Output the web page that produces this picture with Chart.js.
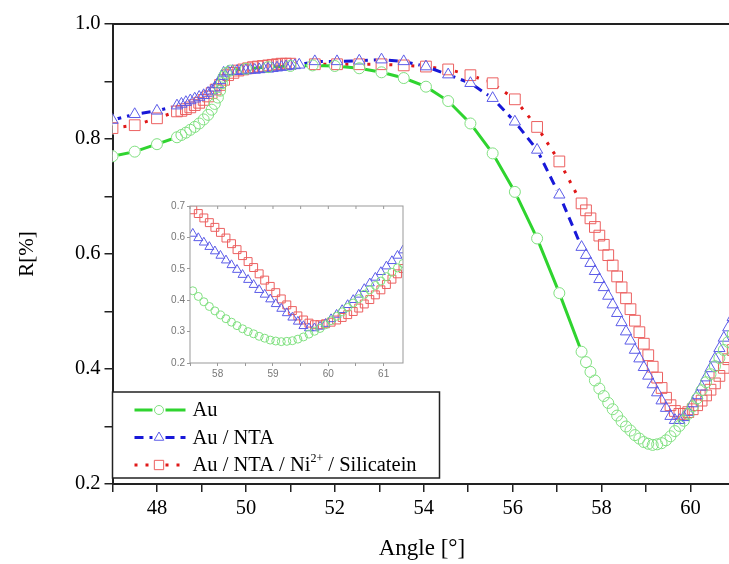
<!DOCTYPE html>
<html>
<head>
<meta charset="utf-8">
<script src="https://cdn.jsdelivr.net/npm/chart.js"></script>
<style>
  html, body { margin: 0; padding: 0; background: #fff; }
  #wrap { position: relative; width: 729px; height: 564px; overflow: hidden; }
  #main { position: absolute; left: 0; top: 0; }
  #inset { position: absolute; left: 150px; top: 190px; }
</style>
</head>
<body>
<div id="wrap">
  <!-- a bit wider than the window: the plot runs off the right edge like the source figure -->
  <canvas id="main" width="740" height="564"></canvas>
  <canvas id="inset" width="260" height="195"></canvas>
</div>
<script>
// reflectivity curves
const auAngle = [47.0, 47.5, 48.0, 48.45, 48.55, 48.65, 48.75, 48.85, 48.95, 49.05, 49.15, 49.23, 49.3, 49.37, 49.42,
  49.46, 49.5, 49.55, 49.65, 50.0, 50.5, 51.0, 51.5, 52.0, 52.55, 53.05, 53.55, 54.05, 54.55, 55.05, 55.55, 56.05,
  56.55, 57.05, 57.55, 57.65, 57.75, 57.85, 57.95, 58.05, 58.15, 58.25, 58.35, 58.45, 58.55, 58.65, 58.75, 58.85,
  58.95, 59.05, 59.15, 59.25, 59.35, 59.45, 59.55, 59.65, 59.75, 59.85, 59.95, 60.05, 60.15, 60.25, 60.35, 60.45,
  60.55, 60.65, 60.75, 60.85, 60.95, 61.05, 61.15, 61.25, 61.35];
const auR = [0.770, 0.778, 0.791, 0.803, 0.807, 0.811, 0.816, 0.821, 0.827, 0.834, 0.842, 0.851, 0.861, 0.872, 0.884,
  0.897, 0.908, 0.915, 0.919, 0.922, 0.925, 0.927, 0.928, 0.927, 0.923, 0.916, 0.906, 0.891, 0.866, 0.827, 0.775, 0.708,
  0.627, 0.532, 0.430, 0.412, 0.395, 0.380, 0.366, 0.353, 0.341, 0.330, 0.319, 0.309, 0.300, 0.293, 0.285, 0.279,
  0.273, 0.270, 0.268, 0.269, 0.271, 0.276, 0.283, 0.292, 0.301, 0.310, 0.322, 0.335, 0.349, 0.363, 0.377, 0.391,
  0.405, 0.419, 0.433, 0.447, 0.461, 0.475, 0.489, 0.503, 0.517];

const ntaAngle = [47.0, 47.5, 48.0, 48.45, 48.55, 48.65, 48.75, 48.85, 48.95, 49.05, 49.15, 49.23, 49.3, 49.37, 49.42,
  49.46, 49.5, 49.6, 49.7, 49.8, 49.9, 50.0, 50.1, 50.2, 50.3, 50.4, 50.5, 50.6, 50.7, 50.8, 50.9, 51.0, 51.1, 51.2,
  51.55, 52.05, 52.55, 53.05, 53.55, 54.05, 54.55, 55.05, 55.55, 56.05, 56.55, 57.05, 57.55, 57.65, 57.75, 57.85,
  57.95, 58.05, 58.15, 58.25, 58.35, 58.45, 58.55, 58.65, 58.75, 58.85, 58.95, 59.05, 59.15, 59.25, 59.35, 59.45,
  59.55, 59.65, 59.75, 59.85, 59.95, 60.05, 60.15, 60.25, 60.35, 60.45, 60.55, 60.65, 60.75, 60.85, 60.95, 61.05,
  61.15, 61.25, 61.35];
const ntaR = [0.833, 0.843, 0.849, 0.858, 0.861, 0.864, 0.867, 0.870, 0.873, 0.876, 0.880, 0.884, 0.889, 0.895, 0.902,
  0.909, 0.915, 0.917, 0.918, 0.918, 0.919, 0.919, 0.920, 0.920, 0.921, 0.922, 0.922, 0.923, 0.924, 0.925, 0.926, 0.927,
  0.928, 0.929, 0.935, 0.935, 0.936, 0.938, 0.935, 0.926, 0.912, 0.897, 0.871, 0.830, 0.781, 0.703, 0.612, 0.598, 0.584,
  0.570, 0.556, 0.542, 0.527, 0.512, 0.497, 0.481, 0.465, 0.449, 0.433, 0.418, 0.403, 0.388, 0.373, 0.359, 0.345, 0.332,
  0.318, 0.311, 0.311, 0.316, 0.325, 0.340, 0.354, 0.369, 0.385, 0.401, 0.418, 0.436, 0.454, 0.472, 0.490, 0.508,
  0.525, 0.542, 0.559];

const silAngle = [47.0, 47.5, 48.0, 48.45, 48.55, 48.65, 48.75, 48.85, 48.95, 49.05, 49.15, 49.23, 49.32, 49.42, 49.51,
  49.6, 49.72, 49.83, 49.94, 50.05, 50.16, 50.27, 50.38, 50.5, 50.6, 50.7, 50.8, 50.9, 51.0, 51.55, 52.05, 52.55, 53.05,
  53.55, 54.05, 54.55, 55.05, 55.55, 56.05, 56.55, 57.05, 57.55, 57.65, 57.75, 57.85, 57.95, 58.05, 58.15, 58.25, 58.35,
  58.45, 58.55, 58.65, 58.75, 58.85, 58.95, 59.05, 59.15, 59.25, 59.35, 59.45, 59.55, 59.65, 59.75, 59.85, 59.95, 60.05,
  60.15, 60.25, 60.35, 60.45, 60.55, 60.65, 60.75, 60.85, 60.95, 61.05, 61.15, 61.25, 61.35];
const silR = [0.819, 0.824, 0.836, 0.848, 0.849, 0.852, 0.855, 0.859, 0.863, 0.868, 0.874, 0.880, 0.886, 0.894, 0.903,
  0.911, 0.915, 0.919, 0.921, 0.923, 0.925, 0.926, 0.927, 0.928, 0.929, 0.930, 0.931, 0.931, 0.931, 0.930, 0.930, 0.930,
  0.930, 0.928, 0.926, 0.921, 0.911, 0.897, 0.869, 0.821, 0.761, 0.688, 0.676, 0.662, 0.647, 0.632, 0.616, 0.598, 0.580,
  0.561, 0.542, 0.523, 0.504, 0.484, 0.464, 0.444, 0.424, 0.404, 0.385, 0.367, 0.350, 0.337, 0.327, 0.322, 0.322, 0.325,
  0.330, 0.337, 0.345, 0.354, 0.364, 0.375, 0.388, 0.402, 0.417, 0.433, 0.450, 0.467, 0.484, 0.501];

const seriesLabels = ['Au', 'Au / NTA', 'Au / NTA / Ni^{2+} / Silicatein'];
const xTickLabels = [48, 50, 52, 54, 56, 58, 60];
const yTickLabels = ['0.2', '0.4', '0.6', '0.8', '1.0'];
const insetXTickLabels = [58, 59, 60, 61];

const serif = "'Liberation Serif', 'Times New Roman', serif";
const sans = "'Liberation Sans', Arial, sans-serif";
const CLEAR = 'rgba(0,0,0,0)';

function pairs(angles, values) {
  return angles.map((a, i) => ({ x: a, y: values[i] }));
}

// no visible line between markers that sit on top of each other
function hideShort(ctx) {
  const d = Math.hypot(ctx.p1.x - ctx.p0.x, ctx.p1.y - ctx.p0.y);
  return d < 14 ? CLEAR : undefined;
}

const styles = [
  { line: '#2fd42f', mark: '#80e080', shape: 'circle', r: 5.5, gap: 6, ri: 4, dash: [] },
  { line: '#1818d8', mark: '#5c5ce8', shape: 'triangle', r: 6.5, gap: 5.5, ri: 5.2, dash: [9, 6] },
  { line: '#e01818', mark: '#ec6060', shape: 'rect', r: 7.6, gap: 6.5, ri: 5.6, dash: [3, 8] }
];
const allData = [pairs(auAngle, auR), pairs(ntaAngle, ntaR), pairs(silAngle, silR)];

function drawLabel(ctx, text, x, y) {
  const parts = text.split(/\^\{(.*?)\}/);
  parts.forEach((p, i) => {
    if (i % 2 === 1) {
      ctx.font = '12px ' + serif;
      ctx.fillText(p, x, y - 7);
    } else {
      ctx.font = '20.5px ' + serif;
      ctx.fillText(p, x, y);
    }
    x += ctx.measureText(p).width;
  });
}

const frameTop = {
  id: 'frameTop',
  afterDraw(chart) {
    const { ctx, chartArea } = chart;
    ctx.save();
    ctx.strokeStyle = '#222';
    ctx.lineWidth = 2;
    ctx.beginPath();
    ctx.moveTo(chartArea.left, chartArea.top);
    ctx.lineTo(chartArea.right, chartArea.top);
    ctx.stroke();
    ctx.restore();
  }
};

// lines are drawn first; before the markers go on, cut a hole in the lines round each lone marker
const markerGaps = {
  id: 'markerGaps',
  beforeDraw(chart) { chart.$gapsDone = false; },
  beforeDatasetDraw(chart, args) {
    const ds = chart.data.datasets[args.index];
    if (ds.showLine !== false || chart.$gapsDone) return;
    chart.$gapsDone = true;
    const { ctx, chartArea } = chart;
    ctx.save();
    ctx.beginPath();
    ctx.rect(chartArea.left, chartArea.top, chartArea.right - chartArea.left, chartArea.bottom - chartArea.top);
    ctx.clip();
    ctx.fillStyle = '#fff';
    chart.data.datasets.forEach((d, di) => {
      if (d.showLine !== false) return;
      const pts = chart.getDatasetMeta(di).data;
      pts.forEach((p, j) => {
        const near = [pts[j - 1], pts[j + 1]].filter(Boolean)
          .map(q => Math.hypot(q.x - p.x, q.y - p.y));
        if (Math.max(...near) < 14) return;
        ctx.beginPath();
        ctx.arc(p.x, p.y, d.gapRadius, 0, Math.PI * 2);
        ctx.fill();
      });
    });
    ctx.restore();
  }
};

const legendBox = {
  id: 'legendBox',
  afterDraw(chart) {
    const ctx = chart.ctx;
    const left = chart.chartArea.left, top = 392, w = 327, h = 86;
    ctx.save();
    ctx.fillStyle = '#fff';
    ctx.fillRect(left, top, w, h);
    ctx.strokeStyle = '#222';
    ctx.lineWidth = 1.5;
    ctx.strokeRect(left, top, w, h);
    styles.forEach((st, i) => {
      const y = top + 18 + i * 27.5;
      ctx.strokeStyle = st.line;
      ctx.lineWidth = 3;
      ctx.setLineDash(st.dash);
      ctx.beginPath();
      ctx.moveTo(left + 22, y); ctx.lineTo(left + 40, y);
      ctx.moveTo(left + 53, y); ctx.lineTo(left + 73, y);
      ctx.stroke();
      ctx.setLineDash([]);
      ctx.strokeStyle = st.mark;
      ctx.fillStyle = CLEAR;
      ctx.lineWidth = 1;
      Chart.helpers.drawPoint(ctx, { pointStyle: st.shape, radius: st.r - 1, rotation: 0, borderWidth: 1 }, left + 46.5, y);
      ctx.fillStyle = '#000';
      ctx.textBaseline = 'middle';
      drawLabel(ctx, seriesLabels[i], left + 80, y + 1);
    });
    ctx.restore();
  }
};

const insetFrame = {
  id: 'insetFrame',
  afterDraw(chart) {
    const { ctx, chartArea } = chart;
    const sx = chart.scales.x;
    ctx.save();
    ctx.strokeStyle = '#999';
    ctx.lineWidth = 1;
    ctx.strokeRect(chartArea.left, chartArea.top, chartArea.right - chartArea.left, chartArea.bottom - chartArea.top);
    ctx.beginPath();
    sx.ticks.forEach(t => {
      const px = sx.getPixelForValue(t.value);
      ctx.moveTo(px, chartArea.top);
      ctx.lineTo(px, chartArea.top + 3);
    });
    ctx.stroke();
    ctx.restore();
  }
};

Chart.defaults.font.family = serif;
Chart.defaults.color = '#000';

const lineSets = allData.map((d, i) => ({
  label: seriesLabels[i] + ' line',
  data: d,
  order: 1,
  borderColor: styles[i].line,
  borderWidth: 3,
  borderDash: styles[i].dash,
  pointRadius: 0,
  pointHoverRadius: 0,
  tension: 0,
  segment: { borderColor: hideShort }
}));
const markerSets = allData.map((d, i) => ({
  label: seriesLabels[i],
  data: d,
  order: 0,
  showLine: false,
  gapRadius: styles[i].gap,
  pointStyle: styles[i].shape,
  pointRadius: styles[i].r,
  pointBorderColor: styles[i].mark,
  pointBackgroundColor: CLEAR,
  pointBorderWidth: 1
}));

new Chart(document.getElementById('main'), {
  type: 'line',
  data: { datasets: lineSets.concat(markerSets) },
  options: {
    responsive: false,
    animation: false,
    layout: { padding: { top: 24, right: 0, left: 0, bottom: 0 } },
    plugins: { legend: { display: false }, tooltip: { enabled: false } },
    scales: {
      x: {
        type: 'linear', min: 47, max: 60.92,
        afterFit: s => { s.height = 80; },
        border: { display: true, color: '#222', width: 2 },
        grid: { drawOnChartArea: false, tickLength: 8, color: '#222', lineWidth: 1.5 },
        ticks: {
          stepSize: 1, includeBounds: false, autoSkip: false, maxRotation: 0, padding: 4,
          font: { family: serif, size: 20.5 },
          callback: v => xTickLabels.includes(v) ? String(v) : ''
        },
        title: { display: true, text: 'Angle [°]', font: { family: serif, size: 23 }, padding: { top: 0, bottom: 1 } }
      },
      y: {
        min: 0.2, max: 1.0,
        afterFit: s => { s.width = 112.5; },
        border: { display: true, color: '#222', width: 2 },
        grid: { drawOnChartArea: false, tickLength: 8, color: '#222', lineWidth: 1.5 },
        ticks: {
          stepSize: 0.1, padding: 4,
          font: { family: serif, size: 20.5 },
          callback: v => yTickLabels.includes(v.toFixed(1)) ? v.toFixed(1) : ''
        },
        title: { display: true, text: 'R[%]', font: { family: serif, size: 21 }, padding: { top: 15, bottom: 0 } }
      }
    }
  },
  plugins: [markerGaps, frameTop, legendBox]
});

new Chart(document.getElementById('inset'), {
  type: 'line',
  data: {
    datasets: allData.map((d, i) => ({
      label: seriesLabels[i],
      data: d,
      showLine: false,
      pointStyle: styles[i].shape,
      pointRadius: styles[i].ri,
      pointBorderColor: styles[i].mark,
      pointBackgroundColor: CLEAR,
      pointBorderWidth: 1
    }))
  },
  options: {
    responsive: false,
    animation: false,
    layout: { padding: { top: 16, right: 7, left: 0, bottom: 0 } },
    plugins: { legend: { display: false }, tooltip: { enabled: false } },
    scales: {
      x: {
        type: 'linear', min: 57.5, max: 61.35,
        afterFit: s => { s.height = 22; },
        border: { display: false },
        grid: { drawOnChartArea: false, tickLength: 3, color: '#999' },
        ticks: {
          stepSize: 0.5, includeBounds: false, autoSkip: false, maxRotation: 0, padding: 2,
          color: '#777', font: { family: sans, size: 10 },
          callback: v => insetXTickLabels.includes(v) ? String(v) : ''
        }
      },
      y: {
        min: 0.2, max: 0.7,
        afterFit: s => { s.width = 40; },
        border: { display: false },
        grid: { drawOnChartArea: false, tickLength: 3, color: '#999' },
        ticks: {
          stepSize: 0.1, padding: 2,
          color: '#777', font: { family: sans, size: 10 },
          callback: v => v.toFixed(1)
        }
      }
    }
  },
  plugins: [insetFrame]
});
</script>
</body>
</html>
